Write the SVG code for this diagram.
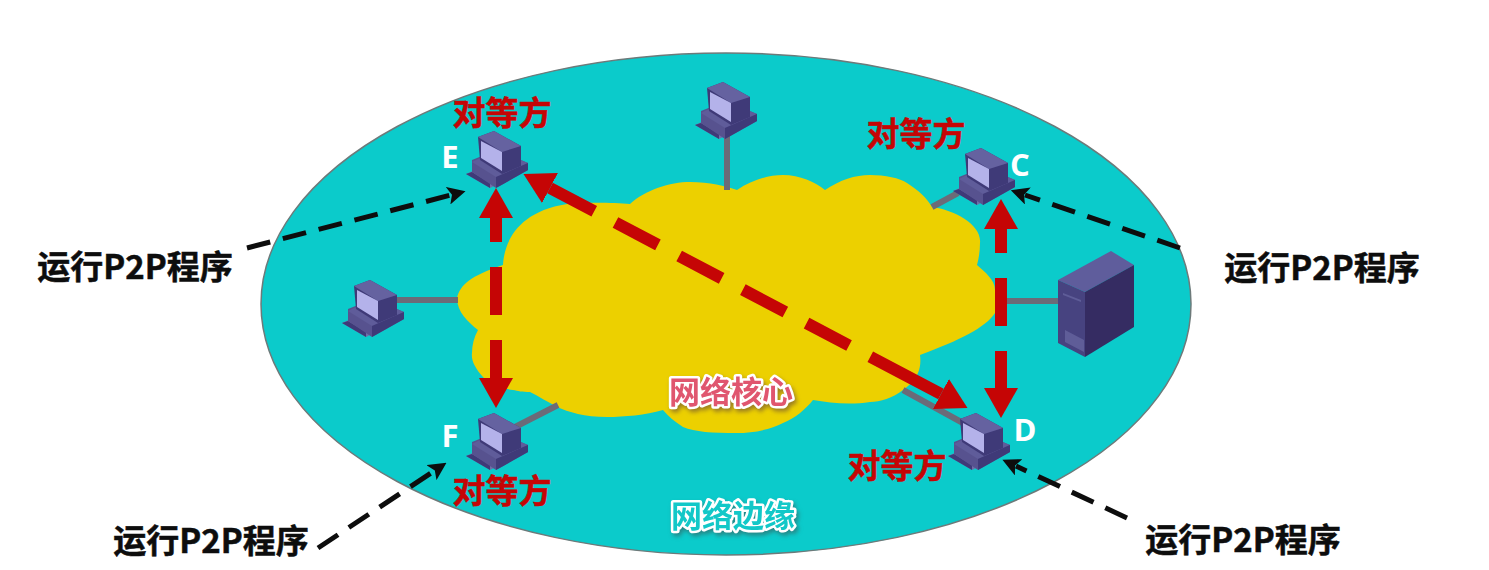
<svg xmlns="http://www.w3.org/2000/svg" xmlns:xlink="http://www.w3.org/1999/xlink" width="1489" height="570" viewBox="0 0 1489 570">
<style>
text{font-family:"Noto Sans CJK SC","Liberation Sans",sans-serif;font-weight:700;text-anchor:middle}
.black{font-size:33px;fill:#0d0d0d;stroke:#0d0d0d;stroke-width:.5px}
.peer{font-size:33px;fill:#c50505;stroke:#c50505;stroke-width:.5px}
.letter{font-family:"Open Sans","Liberation Sans",sans-serif;font-size:31px;fill:#fff}
.core{font-size:31px;fill:#e0566f;stroke:#fff;stroke-width:5px;paint-order:stroke;stroke-linejoin:round;filter:drop-shadow(2px 3px 2px rgba(90,60,60,.55))}
.edge{font-size:31px;fill:#12c8c8;stroke:#fff;stroke-width:5px;paint-order:stroke;stroke-linejoin:round;filter:drop-shadow(2px 3px 2px rgba(60,80,80,.55))}
.link{stroke:#6b6b78;stroke-width:6;fill:none}
.red{stroke:#c50505;stroke-width:12;fill:none}
.blk{stroke:#0d0d0d;stroke-width:5;fill:none;stroke-dasharray:24 13}
.a{fill:#0d0d0d}
.r{fill:#c50505}
</style>
<defs>
<g id="pc">
<path d="M466 174 486 165 510 178 490 188Z" fill="#6f6fa8"/>
<path d="M466 174 490 188 490 183 472 172Z" fill="#3f3a78"/>
<path d="M472 160 497 150 528 163 528 170 496 188 472 172Z" fill="#57528f"/>
<path d="M472 162 496 177 528 163 496 150Z" fill="#5f5c9a"/>
<path d="M496 177 528 163 528 170 496 188Z" fill="#3f3a78"/>
<path d="M478 137 494 131 521 146 521 166 502 174 480 160Z" fill="#3f3a78"/>
<path d="M478 137 494 131 521 146 502 152Z" fill="#6562a0"/>
<path d="M481 141 502 152 502 171 481 158Z" fill="#b4b2ea"/>
</g>
<marker id="hr" markerUnits="userSpaceOnUse" viewBox="0 0 30 34" refX="0" refY="17" markerWidth="30" markerHeight="34" orient="auto-start-reverse"><path d="M0 0 30 17 0 34Z" class="r"/></marker>
<marker id="hb" markerUnits="userSpaceOnUse" viewBox="0 0 18 18" refX="3" refY="9" markerWidth="18" markerHeight="18" orient="auto"><path d="M0 0 18 9 0 18 4 9Z" class="a"/></marker>
</defs>
<rect width="1489" height="570" fill="#fff"/>
<ellipse id="edge-region" cx="726" cy="304" rx="465" ry="251" fill="#0bcbcb" stroke="#6d7a7a" stroke-width="1.5"/>
<path id="core-cloud" fill="#ecd000" d="M457 298C460 285 470 276 503 265C504 245 515 212 567 204C590 202 615 203 630 204C645 190 670 182 690 182C710 182 725 186 737 190C752 180 768 175 783 175C800 175 815 182 825 190C840 180 855 175 870 175C885 175 900 178 907 183C918 190 927 198 932 207C955 210 982 225 980 243C980 250 979 258 977 265C985 272 995 280 995 290C999 298 997 306 995 313C985 328 960 340 920 355C921 362 920 368 918 373C914 382 908 386 903 390C893 398 880 402 870 402C850 405 830 403 813 400C805 410 795 418 783 423C770 430 752 433 737 433C712 433 695 432 683 427C675 422 668 416 663 410C645 415 625 417 607 417C585 417 568 412 557 407C548 402 538 396 530 392C522 392 518 391 513 390C498 388 488 383 483 377C475 368 471 360 472 353C472 345 474 337 478 330C468 322 457 312 457 298Z"/>
<g id="connectors">
<path class="link" d="M727 135V190M397 300H458M1005 301H1060M932 207 958 193M515 427 558 405M903 390 963 423"/>
<path class="red" marker-start="url(#hr)" marker-end="url(#hr)" d="M496 218 496 378" stroke-dasharray="24 25 48 25 38"/>
<path class="red" marker-start="url(#hr)" marker-end="url(#hr)" d="M1001 229V388" stroke-dasharray="24 25 48 25 37"/>
<path class="red" marker-start="url(#hr)" marker-end="url(#hr)" d="M550 188 941 394" stroke-dasharray="50 24 48 24 48 24 48 24 48 24 80"/>
<path class="blk" marker-end="url(#hb)" d="M247 248 451 195"/>
<path class="blk" marker-end="url(#hb)" d="M1180 248 1025 195"/>
<path class="blk" marker-end="url(#hb)" d="M318 548 434 471"/>
<path class="blk" marker-end="url(#hb)" d="M1127 518 1016 466"/>
</g>
<g id="node-E"><use xlink:href="#pc" href="#pc"/><text class="letter" x="450" y="168">E</text><text class="peer" x="502" y="125">对等方</text></g>
<g id="node-top"><use xlink:href="#pc" href="#pc" x="229" y="-49"/></g>
<g id="node-C"><use xlink:href="#pc" href="#pc" x="487" y="17"/><text class="letter" x="1020" y="176">C</text><text class="peer" x="916" y="146">对等方</text></g>
<g id="node-left"><use xlink:href="#pc" href="#pc" x="-124" y="149"/></g>
<g id="node-server">
<path d="M1058 280 1111 251 1134 265 1085 292Z" fill="#5f5d9c"/>
<path d="M1085 292 1134 265 1134 327 1085 357Z" fill="#352c62"/>
<path d="M1058 280 1085 292 1085 357 1058 343Z" fill="#474380"/>
<path d="M1063 293 1081 300V302L1063 295ZM1065 330 1084 340V352L1065 342Z" fill="#5f5d98"/>
</g>
<g id="node-D"><use xlink:href="#pc" href="#pc" x="482" y="282"/><text class="letter" x="1025" y="441">D</text><text class="peer" x="897" y="478">对等方</text></g>
<g id="node-F"><use xlink:href="#pc" href="#pc" y="282"/><text class="letter" x="450" y="447">F</text><text class="peer" x="502" y="503">对等方</text></g>
<text class="core" x="731" y="403">网络核心</text>
<text class="edge" x="733" y="527">网络边缘</text>
<text class="black" x="135" y="279">运行P2P程序</text>
<text class="black" x="1322" y="280">运行P2P程序</text>
<text class="black" x="211" y="553">运行P2P程序</text>
<text class="black" x="1243" y="552">运行P2P程序</text>
</svg>
